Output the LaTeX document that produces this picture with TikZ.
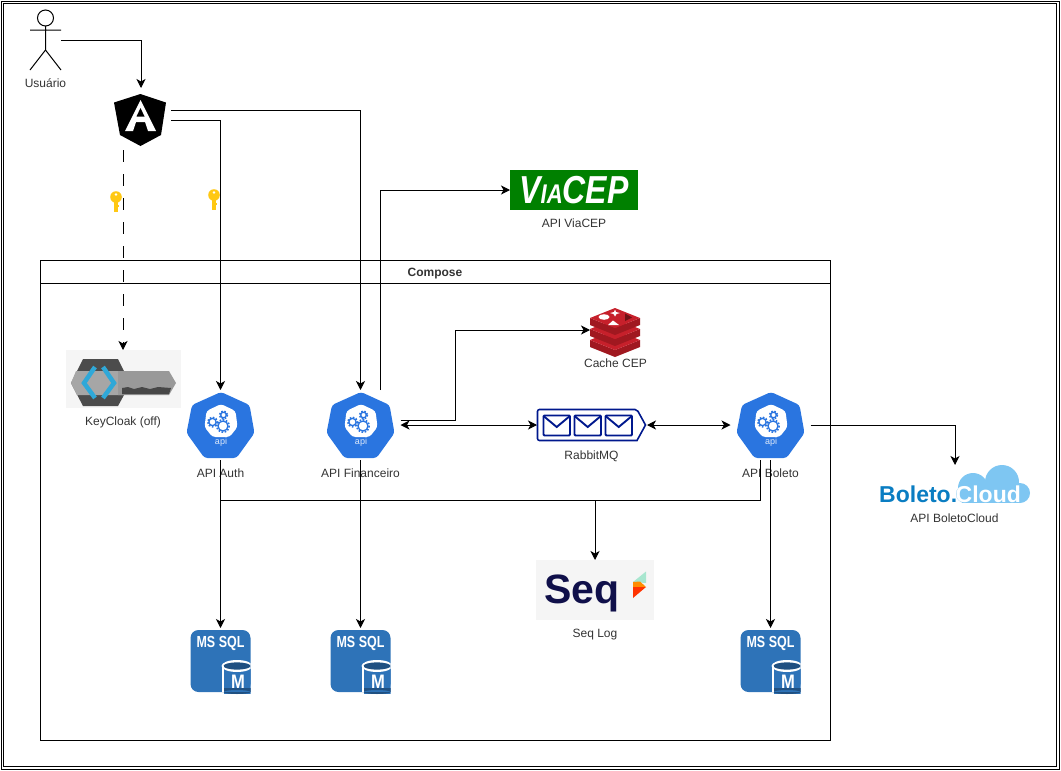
\documentclass[tikz,border=0pt]{standalone}
\usepackage{fontspec}
\setmainfont{Liberation Sans}
\usepackage{tikz}
\usetikzlibrary{arrows.meta}

\definecolor{apiblue}{HTML}{2A75E0}
\definecolor{sqlblue}{HTML}{2E73B8}
\definecolor{sqldark}{HTML}{205081}
\definecolor{rabbitblue}{HTML}{00188D}
\definecolor{redistop}{HTML}{C6202B}
\definecolor{redisside}{HTML}{A01820}
\definecolor{viagreen}{HTML}{008000}
\definecolor{seqnavy}{HTML}{10104A}
\definecolor{seqmint}{HTML}{A8E6CF}
\definecolor{boletoblue}{HTML}{0A7DC2}
\definecolor{cloudblue}{HTML}{7EC6F2}
\definecolor{keyyellow}{HTML}{FFC814}
\definecolor{labelgray}{HTML}{333333}
\definecolor{cloakblue}{HTML}{2FA8D8}

\tikzset{
    slot/.style={inner sep=0pt, outer sep=0pt, minimum width=#1},
    lbl/.style={text=labelgray, font=\fontsize{12}{14}\selectfont, inner sep=0pt, text height=8.6pt, text depth=0pt},
    flow/.style={-{Stealth[length=9pt,width=9pt,inset=2.5pt]}, line width=1pt},
    biflow/.style={{Stealth[length=9pt,width=9pt,inset=2.5pt]}-{Stealth[length=9pt,width=9pt,inset=2.5pt]}, line width=1pt},
    plain/.style={line width=1pt},
    apiicon/.pic={
        \fill[apiblue, rounded corners=3pt] (0.5,-33) -- (29,-20) -- (34,8) -- (16,33) -- (-16,33) -- (-34,8) -- (-28.5,-20) -- cycle;
        \fill[white, rounded corners=3pt] (0.5,-21) -- (15,-14) -- (17,2) -- (9,12) -- (-8,12) -- (-16,2) -- (-14,-14) -- cycle;
        \foreach \gx/\gy/\gr in {2.5/1/5, -8/-3/3.6, 3/-10/2.8} {
            \draw[apiblue, line width=1.3pt] (\gx,\gy) circle (\gr);
            \draw[apiblue, line width=1.6pt, dash pattern=on 1.6pt off 1.6pt] (\gx,\gy) circle (\gr+1.2);
        }
        \node[text=white!85!apiblue, font=\fontsize{9}{9}\selectfont, inner sep=0pt] (apitext) at (0.5,17) {api};
    },
    sqlicon/.pic={
        \fill[sqlblue, rounded corners=8pt] (-30,-31) rectangle (30,31);
        \node[text=white, font=\fontsize{16}{16}\selectfont\bfseries, inner sep=0pt] (sqltext) at (0,-18) {\scalebox{0.78}[1]{MS SQL}};
        \begin{scope}
            \clip (-30,-31) rectangle (30,33);
            \fill[sqlblue] (3,6) rectangle (30,33);
            \fill[sqldark] (3,27) rectangle (30,31) (16.5,31) ellipse (13.5 and 2);
            \fill[white] (16.5,5) ellipse (15.5 and 6);
            \fill[sqldark] (16.5,5) ellipse (13.5 and 3.6);
            \fill[white] (1,5) rectangle (3,31);
        \end{scope}
        \node[text=white, font=\fontsize{19.5}{19.5}\selectfont\bfseries, inner sep=0pt] (sqlm) at (17.5,21) {\scalebox{0.85}[1]{M}};
    },
    keyicon/.pic={
        \fill[keyyellow] (-1.8,0) rectangle (1.8,11);
        \fill[keyyellow] (1.8,4) rectangle (3,6);
        \fill[keyyellow] (0,-4) circle (5.8);
        \fill[white] (0,-6.5) circle (1.3);
    }
}

\begin{document}
\begin{tikzpicture}[x=1pt, y=-1pt, line cap=butt]
    \useasboundingbox (0,0) rectangle (1061,771);

    % page frame
    \draw[line width=1pt] (1.5,1.5) rectangle (1059.5,769.5);
    \draw[line width=1pt] (3.8,3.8) rectangle (1056.8,766.8);

    % compose box
    \node[draw, line width=1pt, slot=790pt, minimum height=480pt] (compose) at (435.5,500.5) {};
    \node[draw, line width=1pt, slot=790pt, minimum height=23pt] (composehead) at (435.5,272) {};
    \node[text=labelgray, font=\fontsize{12}{14}\selectfont\bfseries, inner sep=0pt, text height=8.6pt, text depth=0pt] (composetitle) at (435,272.5) {Compose};

    % user
    \node[slot=31pt, minimum height=60pt] (user) at (45.5,40) {};
    \draw[line width=1pt] (45.5,18) circle (8);
    \draw[line width=1pt] (45.5,26) -- (45.5,50) (30,30) -- (61,30) (30,70) -- (45.5,50) -- (61,70);
    \node[lbl] (userlbl) at (45.5,83.5) {Usuário};

    % angular
    \node[slot=60pt, minimum height=62pt] (angular) at (141,119) {};
    \fill[black] (140.5,94) -- (166,102.5) -- (161,135) -- (140.5,146) -- (120,135) -- (114,102.5) -- cycle;
    \fill[white] (140.5,100) -- (156,131) -- (148,131) -- (145,122) -- (136,122) -- (133,131) -- (125,131) -- cycle;
    \fill[black] (140.5,108) -- (144.5,116.5) -- (136.5,116.5) -- cycle;

    % keycloak
    \node[fill=black!4, slot=115pt, minimum height=58pt] (keycloak) at (123,379) {};
    \fill[black!70] (83,359) -- (118,359) -- (124,371) -- (124,395) -- (118,406) -- (83,406) -- (71,383) -- cycle;
    \fill[black!35] (76,371) -- (124,371) -- (130,383) -- (124,395) -- (77,395) -- (71,383) -- cycle;
    \fill[black!40] (118,371) -- (169,371) -- (176,383) -- (169,395) -- (118,395) -- cycle;
    \fill[black!72] (122,388) -- (128,387) -- (134,389) -- (142,387) -- (150,389) -- (158,387) -- (171,388) -- (169,394) -- (122,394) -- cycle;
    \draw[cloakblue, line width=4.5pt] (95,367) -- (84,383) -- (95,398);
    \draw[cloakblue, line width=4.5pt] (103,367) -- (114,383) -- (103,398);
    \node[lbl] (keycloaklbl) at (123,421.5) {KeyCloak (off)};

    % apis
    \node[slot=80pt, minimum height=70pt] (auth) at (220.5,425) {};
    \node[slot=80pt, minimum height=70pt] (fin) at (360.5,425) {};
    \node[slot=80pt, minimum height=70pt] (boleto) at (770.5,425) {};
    \pic at (auth) {apiicon};
    \pic at (fin) {apiicon};
    \pic at (boleto) {apiicon};
    \node[lbl] (authlbl) at (220.5,473.5) {API Auth};
    \node[lbl] (finlbl) at (360.5,473.5) {API Financeiro};
    \node[lbl] (boletolbl) at (770.5,473.5) {API Boleto};

    % viacep
    \node[fill=viagreen, text=white, slot=128pt, minimum height=40pt, font=\fontsize{39}{39}\selectfont\bfseries\itshape] (viacep) at (574,190) {\scalebox{0.82}[1]{V{\fontsize{27}{27}\selectfont IA}CEP}};
    \node[lbl] (viaceplbl) at (574,223.5) {API ViaCEP};

    % redis
    \node[slot=50pt, minimum height=42pt] (redis) at (615,330) {};
    \foreach \dy in {22,11,0} {
        \fill[redisside] (590,318+\dy) -- (615,328+\dy) -- (640,318+\dy) -- (640,325+\dy) -- (615,335+\dy) -- (590,325+\dy) -- cycle;
        \fill[redistop] (590,318+\dy) -- (615,308+\dy) -- (640,318+\dy) -- (615,328+\dy) -- cycle;
    }
    \fill[white] (615,309.5) -- (616,312) -- (620,313) -- (616.5,314) -- (615,316.5) -- (613.5,314) -- (610,313) -- (614,312) -- cycle;
    \fill[white] (604,317) ellipse (5.5 and 2.8);
    \fill[white] (613,320.5) -- (619,325) -- (608,325) -- cycle;
    \fill[redisside!70!black] (625,313.5) -- (632,317.5) -- (625,321) -- cycle;
    \node[lbl] (redislbl) at (615.5,363.5) {Cache CEP};

    % rabbit
    \node[slot=110pt, minimum height=32pt] (rabbit) at (592,425) {};
    \draw[rabbitblue, line width=1.6pt, rounded corners=2pt] (537.5,409.5) -- (637,409.5) [sharp corners] -- (645.5,425) -- (637,440.5) [rounded corners=2pt] -- (537.5,440.5) -- cycle;
    \foreach \ex in {543.5,574.5,605.5} {
        \draw[rabbitblue, line width=1.9pt, rounded corners=1pt] (\ex,415.5) rectangle ++(26.5,20);
        \draw[rabbitblue, line width=1.9pt] (\ex,416) -- ++(13.2,11) -- ++(13.2,-11);
    }
    \node[lbl] (rabbitlbl) at (591.5,455.5) {RabbitMQ};

    % boleto cloud
    \node[slot=152pt, minimum height=40pt] (cloudapi) at (955,485) {};
    \foreach \cx/\cy/\cr in {1002/482/17, 973/488/15, 1020/493/10, 965/494/9} {
        \fill[cloudblue] (\cx,\cy) circle (\cr);
    }
    \fill[cloudblue] (962,484) rectangle (1020,503);
    \node[anchor=base west, text=boletoblue, font=\fontsize{23}{23}\selectfont\bfseries, inner sep=0pt] (boletotext) at (879,502) {Boleto.};
    \node[anchor=base west, text=white, font=\fontsize{23}{23}\selectfont\bfseries, inner sep=0pt] (cloudtext) at (955.5,502) {Cloud};
    \node[lbl] (cloudlbl) at (954.5,518.5) {API BoletoCloud};

    % seq
    \node[fill=black!4, slot=118pt, minimum height=60pt] (seq) at (595,590) {};
    \node[anchor=base west, text=seqnavy, font=\fontsize{41}{41}\selectfont\bfseries, inner sep=0pt] (seqtext) at (544,603) {Seq};
    \fill[seqmint] (646,571.5) -- (646,583) -- (633,582) -- cycle;
    \fill[orange!90!yellow] (633,582) -- (640,581.5) -- (646,587) -- (633,587) -- cycle;
    \fill[red!60!orange] (633,587) -- (646,587) -- (633,598) -- cycle;
    \node[lbl] (seqlbl) at (595,633.5) {Seq Log};

    % databases
    \node[slot=60pt, minimum height=66pt] (sqlauth) at (220.5,661) {};
    \node[slot=60pt, minimum height=66pt] (sqlfin) at (360.5,661) {};
    \node[slot=60pt, minimum height=66pt] (sqlboleto) at (770.5,661) {};
    \pic at (sqlauth) {sqlicon};
    \pic at (sqlfin) {sqlicon};
    \pic at (sqlboleto) {sqlicon};

    % connectors
    \draw[flow] (user.east) -| (angular.north);
    \draw[flow] ([yshift=9pt]angular.east) -| (fin.north);
    \draw[flow] ([yshift=-1pt]angular.east) -| (auth.north);
    \draw[flow, dash pattern=on 12pt off 12pt] ([xshift=-18pt]angular.south) -- (keycloak.north);
    \draw[flow] ([xshift=20pt]fin.north) |- (viacep.west);
    \draw[flow] ([yshift=5pt]fin.east) -- ++(55,0) |- (redis.west);
    \draw[biflow] (fin.east) -- (rabbit.west);
    \draw[biflow] (rabbit.east) -- (boleto.west);
    \draw[flow] (boleto.east) -| (cloudapi.north);
    \draw[flow] (auth.south) -- (sqlauth.north);
    \draw[flow] (fin.south) -- (sqlfin.north);
    \draw[flow] (boleto.south) -- (sqlboleto.north);
    \coordinate (logbus) at (220.5,500.5);
    \draw[plain] ([xshift=-10pt]boleto.south) |- (logbus);
    \draw[flow] (seq.north |- logbus) -- (seq.north);

    % tokens
    \pic at (116,201) {keyicon};
    \pic at (214,199) {keyicon};
\end{tikzpicture}
\end{document}
